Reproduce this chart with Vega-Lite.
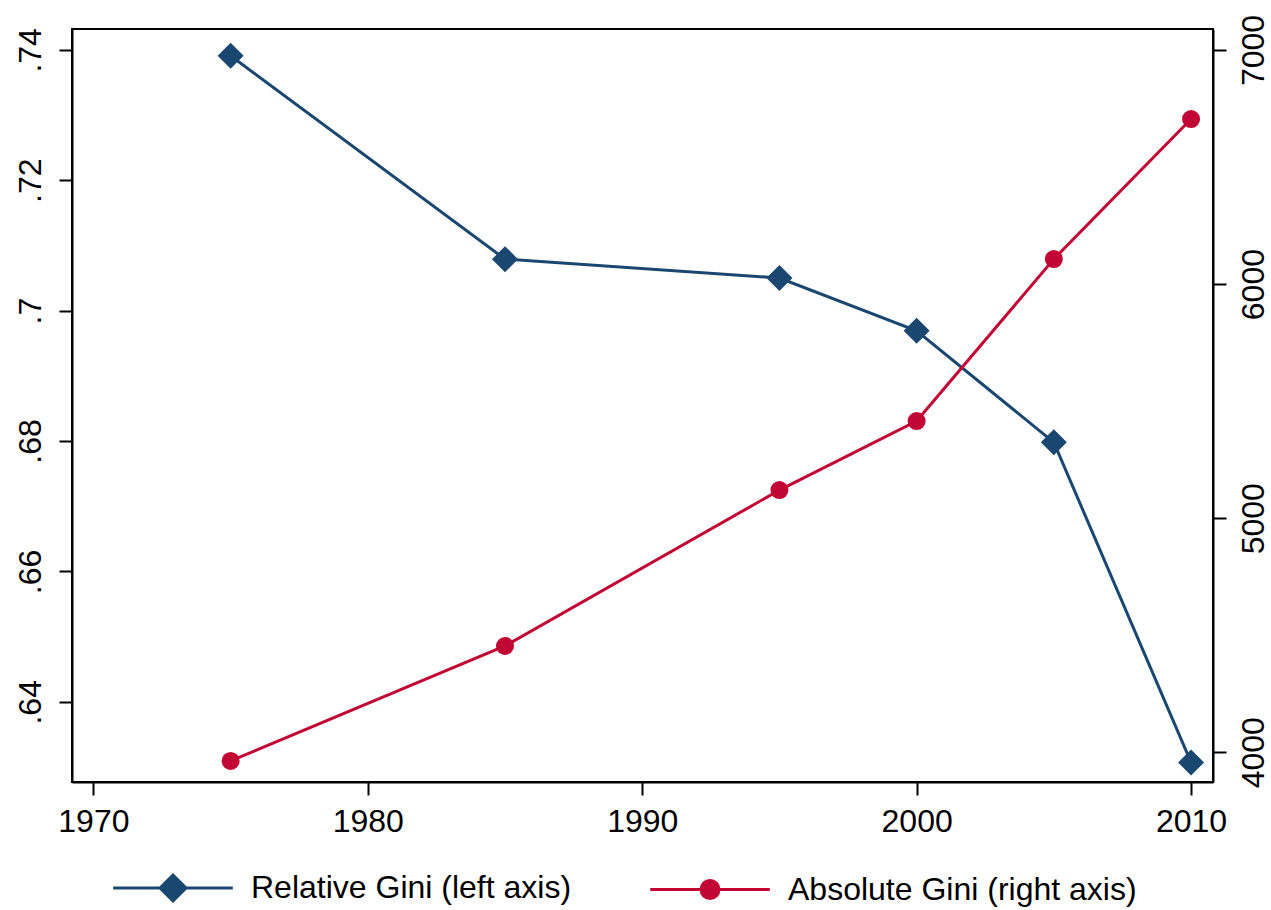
{
  "$schema": "https://vega.github.io/schema/vega-lite/v6.json",
  "width": 1141,
  "height": 753,
  "autosize": {"type": "none"},
  "padding": {"left": 72, "top": 29, "right": 58, "bottom": 128},
  "background": "white",
  "config": {
    "view": {"stroke": "black", "strokeWidth": 2},
    "axis": {
      "domainColor": "black", "domainWidth": 2,
      "tickColor": "black", "tickWidth": 2, "tickSize": 13,
      "labelFont": "Liberation Sans", "labelFontSize": 32, "labelColor": "black",
      "grid": false
    }
  },
  "data": {
    "values": [
      {"year": 1975, "series": "Relative Gini (left axis)", "value": 0.7391},
      {"year": 1985, "series": "Relative Gini (left axis)", "value": 0.7079},
      {"year": 1995, "series": "Relative Gini (left axis)", "value": 0.7050},
      {"year": 2000, "series": "Relative Gini (left axis)", "value": 0.6969},
      {"year": 2005, "series": "Relative Gini (left axis)", "value": 0.6798},
      {"year": 2010, "series": "Relative Gini (left axis)", "value": 0.6307},
      {"year": 1975, "series": "Absolute Gini (right axis)", "value": 3963},
      {"year": 1985, "series": "Absolute Gini (right axis)", "value": 4454},
      {"year": 1995, "series": "Absolute Gini (right axis)", "value": 5120},
      {"year": 2000, "series": "Absolute Gini (right axis)", "value": 5415},
      {"year": 2005, "series": "Absolute Gini (right axis)", "value": 6107},
      {"year": 2010, "series": "Absolute Gini (right axis)", "value": 6705}
    ]
  },
  "encoding": {
    "x": {
      "field": "year", "type": "quantitative",
      "scale": {"domain": [1969.22, 2010.8], "nice": false, "zero": false},
      "axis": {"values": [1970, 1980, 1990, 2000, 2010], "format": "d", "labelPadding": 11, "title": null}
    },
    "color": {
      "field": "series", "type": "nominal",
      "scale": {"domain": ["Relative Gini (left axis)", "Absolute Gini (right axis)"], "range": ["#1a476f", "#c10534"]},
      "legend": {
        "orient": "none", "legendX": 85, "legendY": 843,
        "direction": "horizontal", "columns": 2, "title": null,
        "labelFontSize": 32, "labelFont": "Liberation Sans", "labelColor": "black", "labelLimit": 0,
        "symbolSize": 676, "labelOffset": 62, "columnPadding": 72, "padding": 0,
        "symbolStrokeWidth": 3,
        "encode": {
          "symbols": {
            "update": {
              "shape": {"signal": "datum.value === 'Relative Gini (left axis)' ? 'M-4.6,0H4.6M-1,0L0,-1L1,0L0,1Z' : 'M-4.6,0H4.6M-0.69,0A0.69,0.69,0,1,1,0.69,0A0.69,0.69,0,1,1,-0.69,0Z'"},
              "fill": {"signal": "datum.value === 'Relative Gini (left axis)' ? '#1a476f' : '#c10534'"},
              "stroke": {"signal": "datum.value === 'Relative Gini (left axis)' ? '#1a476f' : '#c10534'"},
              "strokeWidth": {"value": 3},
              "opacity": {"value": 1}
            }
          }
        }
      }
    }
  },
  "layer": [
    {
      "transform": [{"filter": "datum.series === 'Relative Gini (left axis)'"}],
      "mark": {"type": "line", "strokeWidth": 3, "point": {"shape": "diamond", "size": 676, "filled": true, "opacity": 1, "strokeWidth": 0}},
      "encoding": {
        "y": {
          "field": "value", "type": "quantitative",
          "scale": {"domain": [0.6277, 0.7432], "nice": false, "zero": false},
          "axis": {
            "orient": "left", "values": [0.64, 0.66, 0.68, 0.7, 0.72, 0.74],
            "labelAngle": 270, "labelPadding": 12,
            "labelExpr": "replace(format(datum.value, '.2~f'), '0.', '.')",
            "title": null
          }
        }
      }
    },
    {
      "transform": [{"filter": "datum.series === 'Absolute Gini (right axis)'"}],
      "mark": {"type": "line", "strokeWidth": 3, "point": {"shape": "circle", "size": 324, "filled": true, "opacity": 1, "strokeWidth": 0}},
      "encoding": {
        "y": {
          "field": "value", "type": "quantitative",
          "scale": {"domain": [3873, 7089.7], "nice": false, "zero": false},
          "axis": {
            "orient": "right", "values": [4000, 5000, 6000, 7000], "format": "d",
            "labelAngle": 270, "labelPadding": 12,
            "title": null
          }
        }
      }
    }
  ],
  "resolve": {"scale": {"y": "independent"}}
}
